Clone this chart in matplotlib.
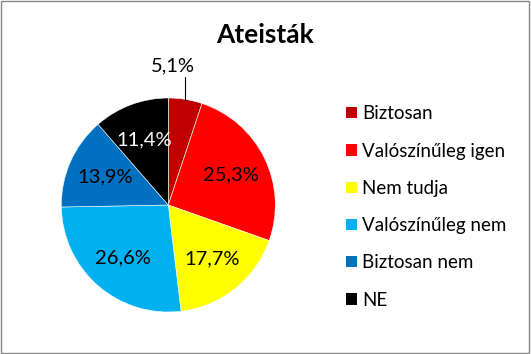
import matplotlib.pyplot as plt
from matplotlib.patches import Rectangle, Patch

plt.rcParams['font.family'] = ['Lato', 'DejaVu Sans']

title = "Ateisták"
categories = ["Biztosan", "Valószínűleg igen", "Nem tudja",
              "Valószínűleg nem", "Biztosan nem", "NE"]
values = [5.1, 25.3, 17.7, 26.6, 13.9, 11.4]
colors = ["#C00000", "#FF0000", "#FFFF00", "#00B0F0", "#0070C0", "#000000"]
label_colors = ["black", "black", "black", "black", "black", "white"]

W, H = 531, 354
fig = plt.figure(figsize=(W / 100, H / 100), dpi=100)

# pie centre ~(168,205) px, radius ~107 px
cx, cy, r = 168.3, 205, 107
ax = fig.add_axes([(cx - r) / W, (H - cy - r) / H, 2 * r / W, 2 * r / H])

wedges, texts, autotexts = ax.pie(
    values, colors=colors, startangle=90, counterclock=False,
    autopct=lambda p: f"{p:.1f}%".replace(".", ","), pctdistance=0.65,
    wedgeprops=dict(edgecolor="white", linewidth=0.4),
    textprops=dict(fontsize=14.5))
for t, c in zip(autotexts, label_colors):
    t.set_color(c)

# first (small) slice gets an outside label with a leader line
autotexts[0].set_visible(False)
ax.annotate(f"{values[0]:.1f}%".replace(".", ","), xy=(0.155, 0.985),
            xytext=(0.04, 1.3), ha="center", va="center", fontsize=14.5,
            arrowprops=dict(arrowstyle="-", color="black", lw=0.8,
                            shrinkA=0, shrinkB=0,
                            connectionstyle="angle,angleA=0,angleB=90,rad=0"),
            annotation_clip=False)
ax.set_xlim(-1, 1)
ax.set_ylim(-1, 1)
ax.set_aspect("equal")
ax.axis("off")

fig.text(265 / W, 1 - 35 / H, title, ha="center", va="center",
         fontsize=19, fontweight="bold")

handles = [Patch(facecolor=c, edgecolor="none") for c in colors]
fig.legend(handles, categories, loc="upper left",
           bbox_to_anchor=(337 / W, 1 - 96 / H), frameon=False,
           fontsize=13.5, handlelength=0.55, handleheight=0.55,
           handletextpad=0.3, labelspacing=1.08, borderpad=0)

fig.patches.append(Rectangle((0.002, 0.003), 0.995, 0.993, transform=fig.transFigure,
                             fill=False, edgecolor="#868686", linewidth=1))

fig.savefig("out.png", dpi=100)
